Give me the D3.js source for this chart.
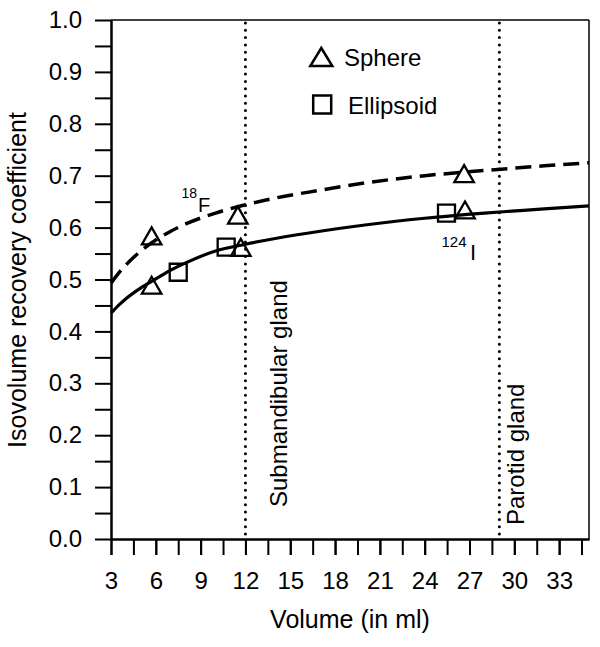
<!DOCTYPE html>
<html><head><meta charset="utf-8">
<script src="https://cdn.jsdelivr.net/npm/d3@7"></script>
<style>
body{margin:0;background:#fff}
svg{display:block}
text{font-family:"Liberation Sans",Arial,Helvetica,sans-serif;fill:#000}
</style>
</head><body>
<svg id="c" width="600" height="647"></svg>
<script>
// ---- data ----
const sphereX = [5.72, 5.72, 11.49, 11.69, 26.64, 26.70];
const sphereY = [0.584, 0.489, 0.624, 0.562, 0.704, 0.634];
const ellipsoidX = [7.50, 10.71, 25.46];
const ellipsoidY = [0.514, 0.5625, 0.628];
const fitX   = [3, 3.5, 4, 5, 6, 7, 8, 10, 12, 14, 17, 20, 24, 28, 32, 35];
const fitF18 = [0.493, 0.512, 0.528, 0.555, 0.576, 0.593, 0.607, 0.628, 0.644, 0.657, 0.672, 0.686, 0.700, 0.710, 0.719, 0.725];
const fitI124= [0.435, 0.450, 0.463, 0.484, 0.501, 0.518, 0.532, 0.555, 0.568, 0.579, 0.593, 0.605, 0.618, 0.628, 0.636, 0.642];
const glandX = [12, 29];
const glandLabels = ["Submandibular gland", "Parotid gland"];
const xTickLabels = [3, 6, 9, 12, 15, 18, 21, 24, 27, 30, 33];
const xMinorTicks = [3, 4.5, 6, 7.5, 9, 10.5, 12, 13.5, 15, 16.5, 18, 19.5, 21, 22.5, 24, 25.5, 27, 28.5, 30, 31.5, 33, 34.5];
const yTickLabels = [0, 0.1, 0.2, 0.3, 0.4, 0.5, 0.6, 0.7, 0.8, 0.9, 1.0];
const yMinorTicks = [0.05, 0.15, 0.25, 0.35, 0.45, 0.55, 0.65, 0.75, 0.85, 0.95];
const legendLabels = ["Sphere", "Ellipsoid"];

// ---- layout ----
const L = 111, R = 589, T = 20, B = 539;
const svg = d3.select("#c");
const x = d3.scaleLinear().domain([3, 35]).range([L, R]);
const y = d3.scaleLinear().domain([0, 1]).range([B, T]);

function styleAxis(g, fs) {
  g.attr("font-family", '"Liberation Sans",Arial,sans-serif').attr("font-size", fs);
  g.selectAll("line").attr("stroke", "#000").attr("stroke-width", 2);
  g.selectAll("path").attr("stroke", "#000").attr("stroke-width", 2);
  g.selectAll("text").attr("fill", "#000");
}

// frame top/right
svg.append("line").attr("x1", L).attr("x2", R).attr("y1", T).attr("y2", T).attr("stroke", "#000").attr("stroke-width", 1.5);
svg.append("line").attr("x1", R).attr("x2", R).attr("y1", T).attr("y2", B).attr("stroke", "#000").attr("stroke-width", 1.5);

// y axis
svg.append("g").attr("transform", `translate(${L},0)`)
  .call(d3.axisLeft(y).tickValues(yMinorTicks).tickSize(16).tickSizeOuter(0).tickFormat(""))
  .call(g => styleAxis(g, 24));
svg.append("g").attr("transform", `translate(${L},0)`)
  .call(d3.axisLeft(y).tickValues(yTickLabels).tickSize(16).tickSizeOuter(0).tickPadding(13).tickFormat(d3.format(".1f")))
  .call(g => styleAxis(g, 24));

// x axis
svg.append("g").attr("transform", `translate(0,${B})`)
  .call(d3.axisBottom(x).tickValues(xMinorTicks).tickSize(16).tickSizeOuter(0).tickFormat(""))
  .call(g => styleAxis(g, 24));
svg.append("g").attr("transform", `translate(0,${B})`)
  .call(d3.axisBottom(x).tickValues(xTickLabels).tickSize(16).tickSizeOuter(0).tickPadding(17).tickFormat(d3.format("d")))
  .call(g => styleAxis(g, 24));

// axis titles
svg.append("text").attr("x", (L + R) / 2 - 0).attr("y", 628).attr("text-anchor", "middle")
  .attr("font-size", 25).text("Volume (in ml)");
svg.append("text").attr("transform", "translate(26,280) rotate(-90)").attr("text-anchor", "middle")
  .attr("font-size", 25).text("Isovolume recovery coefficient");

// gland lines
svg.selectAll(".gland").data(glandX).join("line")
  .attr("x1", d => x(d)).attr("x2", d => x(d)).attr("y1", y(1) + 3).attr("y2", y(0))
  .attr("stroke", "#000").attr("stroke-width", 3).attr("stroke-linecap", "round")
  .attr("stroke-dasharray", "0 7.3");
const glandTextPos = [{bx: 287, sy: 507}, {bx: 524, sy: 525}];
svg.selectAll(".glandtxt").data(glandLabels).join("text")
  .attr("transform", (d, i) => `translate(${glandTextPos[i].bx},${glandTextPos[i].sy}) rotate(-90)`)
  .attr("font-size", 24).text(d => d);

// fit curves
const line = d3.line().x(d => x(d[0])).y(d => y(d[1])).curve(d3.curveMonotoneX);
svg.append("path").datum(fitX.map((v, i) => [v, fitF18[i]])).attr("d", line)
  .attr("fill", "none").attr("stroke", "#000").attr("stroke-width", 3.5).attr("stroke-dasharray", "16 8");
svg.append("path").datum(fitX.map((v, i) => [v, fitI124[i]])).attr("d", line)
  .attr("fill", "none").attr("stroke", "#000").attr("stroke-width", 3.2);

// markers
function triPath(cx, cy, w, h) {
  const p = d3.path();
  p.moveTo(cx, cy - h / 2); p.lineTo(cx + w / 2, cy + h / 2); p.lineTo(cx - w / 2, cy + h / 2); p.closePath();
  return p.toString();
}
function sqPath(cx, cy, s) {
  const p = d3.path(); p.rect(cx - s / 2, cy - s / 2, s, s); return p.toString();
}
svg.selectAll(".sq").data(ellipsoidX).join("path")
  .attr("d", (d, i) => sqPath(x(d), y(ellipsoidY[i]), 17))
  .attr("fill", "none").attr("stroke", "#000").attr("stroke-width", 2.3);
svg.selectAll(".tri").data(sphereX).join("path")
  .attr("d", (d, i) => triPath(x(d), y(sphereY[i]), 19.5, 17))
  .attr("fill", "none").attr("stroke", "#000").attr("stroke-width", 2.3).attr("stroke-linejoin", "miter");

// legend
svg.append("path").attr("d", triPath(321.3, 57, 22, 18)).attr("fill", "none").attr("stroke", "#000").attr("stroke-width", 2.5);
svg.append("path").attr("d", sqPath(322.2, 104.5, 18)).attr("fill", "none").attr("stroke", "#000").attr("stroke-width", 2.5);
svg.append("text").attr("x", 344).attr("y", 66).attr("font-size", 24).text(legendLabels[0]);
svg.append("text").attr("x", 348).attr("y", 114).attr("font-size", 24).text(legendLabels[1]);

// isotope labels
svg.append("text").attr("x", 181.5).attr("y", 198).attr("font-size", 14).text("18");
svg.append("text").attr("x", 198).attr("y", 212).attr("font-size", 20).text("F");
svg.append("text").attr("x", 441.5).attr("y", 247).attr("font-size", 15).text("124");
svg.append("text").attr("x", 470).attr("y", 260).attr("font-size", 22).text("I");
</script>
</body></html>
